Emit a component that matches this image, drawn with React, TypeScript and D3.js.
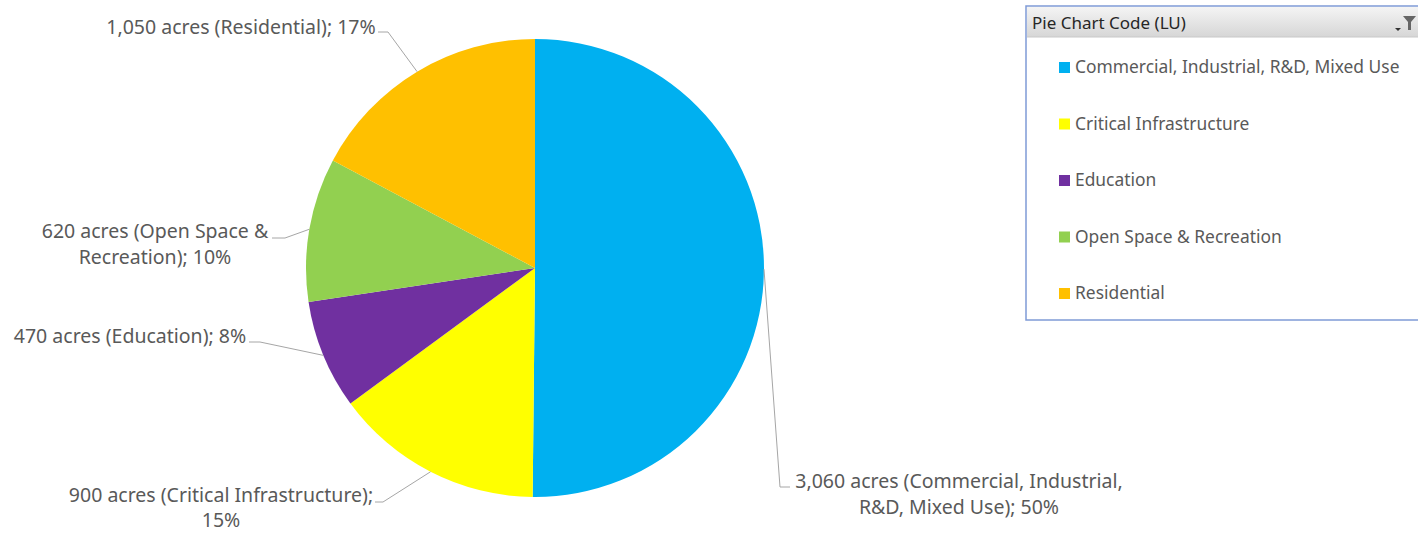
import React from "react";
import * as d3 from "d3";

const categories = [
  "Commercial, Industrial, R&D, Mixed Use",
  "Critical Infrastructure",
  "Education",
  "Open Space & Recreation",
  "Residential",
];
const acres = [3060, 900, 470, 620, 1050];
const dataLabelLines = [
  ["3,060 acres (Commercial, Industrial,", "R&D, Mixed Use); 50%"],
  ["900 acres (Critical Infrastructure);", "15%"],
  ["470 acres (Education); 8%"],
  ["620 acres (Open Space &", "Recreation); 10%"],
  ["1,050 acres (Residential); 17%"],
];
const colors = ["#00B0F0", "#FFFF00", "#7030A0", "#92D050", "#FFC000"];
const legendTitle = "Pie Chart Code (LU)";

// label layout (leader elbow, leader end, text center x, first baseline, line gap)
const labelLayout = [
  { elbow: [780, 487], end: [790, 487], tx: 959, ty: 488, gap: 26 },
  { elbow: [383, 502], end: [375, 502], tx: 221, ty: 502, gap: 25 },
  { elbow: [260, 342], end: [249, 342], tx: 130, ty: 343, gap: 26 },
  { elbow: [285, 238], end: [272, 238], tx: 155, ty: 238, gap: 26 },
  { elbow: [388, 32], end: [378, 32], tx: 241, ty: 34, gap: 26 },
];

const W = 1418;
const H = 534;
const cx = 535;
const cy = 268;
const R = 229;
const FONT = "'Noto Sans', 'Open Sans', sans-serif";

export default function App() {
  const pie = d3.pie<number>().sort(null).value((d) => d);
  const arcs = pie(acres);
  const arcGen = d3.arc<d3.PieArcDatum<number>>().innerRadius(0).outerRadius(R);
  const lineGen = d3.line();

  const legendX = 1026;
  const legendY = 6;
  const itemY = d3.scalePoint<string>().domain(categories).range([67, 293]);

  return (
    <svg
      width={W}
      height={H}
      style={{ position: "absolute", left: 0, top: 0, background: "#fff" }}
      fontFamily={FONT}
    >
      <defs>
        <linearGradient id="hdr" x1="0" y1="0" x2="0" y2="1">
          <stop offset="0" stopColor="#f4f4f4" />
          <stop offset="1" stopColor="#d6d6d6" />
        </linearGradient>
      </defs>
      <g transform={`translate(${cx},${cy})`}>
        {arcs.map((a, i) => (
          <path key={i} d={arcGen(a) || ""} fill={colors[i]} />
        ))}
      </g>
      {arcs.map((a, i) => {
        const mid = (a.startAngle + a.endAngle) / 2;
        const sx = cx + R * Math.sin(mid);
        const sy = cy - R * Math.cos(mid);
        const L = labelLayout[i];
        const pts: [number, number][] = [
          [sx, sy],
          [L.elbow[0], L.elbow[1]],
          [L.end[0], L.end[1]],
        ];
        return (
          <g key={"l" + i}>
            <path d={lineGen(pts) || ""} fill="none" stroke="#a6a6a6" strokeWidth={1} />
            <text
              x={L.tx}
              y={L.ty}
              textAnchor="middle"
              fontSize={19.5}
              fill="#595959"
            >
              {dataLabelLines[i].map((ln, j) => (
                <tspan key={j} x={L.tx} y={L.ty + j * L.gap}>
                  {ln}
                </tspan>
              ))}
            </text>
          </g>
        );
      })}
      {/* legend */}
      <g>
        <rect
          x={legendX}
          y={legendY}
          width={W - legendX + 10}
          height={314}
          fill="#fff"
          stroke="#7f9bd6"
          strokeWidth={1.5}
        />
        <rect x={legendX + 1} y={legendY + 1} width={W - legendX} height={30} fill="url(#hdr)" />
        <line x1={legendX + 1} x2={W} y1={legendY + 31} y2={legendY + 31} stroke="#c8c8c8" />
        <text x={1032} y={29} fontSize={17} fill="#262626">
          {legendTitle}
        </text>
        <path d="M1395,28 L1401,28 L1398,31 Z" fill="#333" />
        <path d="M1403,16 L1416,16 L1411,22 L1411,30 L1408,30 L1408,22 Z" fill="#666" />
        {categories.map((c, i) => (
          <g key={c}>
            <rect x={1059} y={itemY(c)! - 5} width={11} height={11} fill={colors[i]} />
            <text x={1075} y={itemY(c)! + 6} fontSize={17.4} fill="#595959">
              {c}
            </text>
          </g>
        ))}
      </g>
    </svg>
  );
}
